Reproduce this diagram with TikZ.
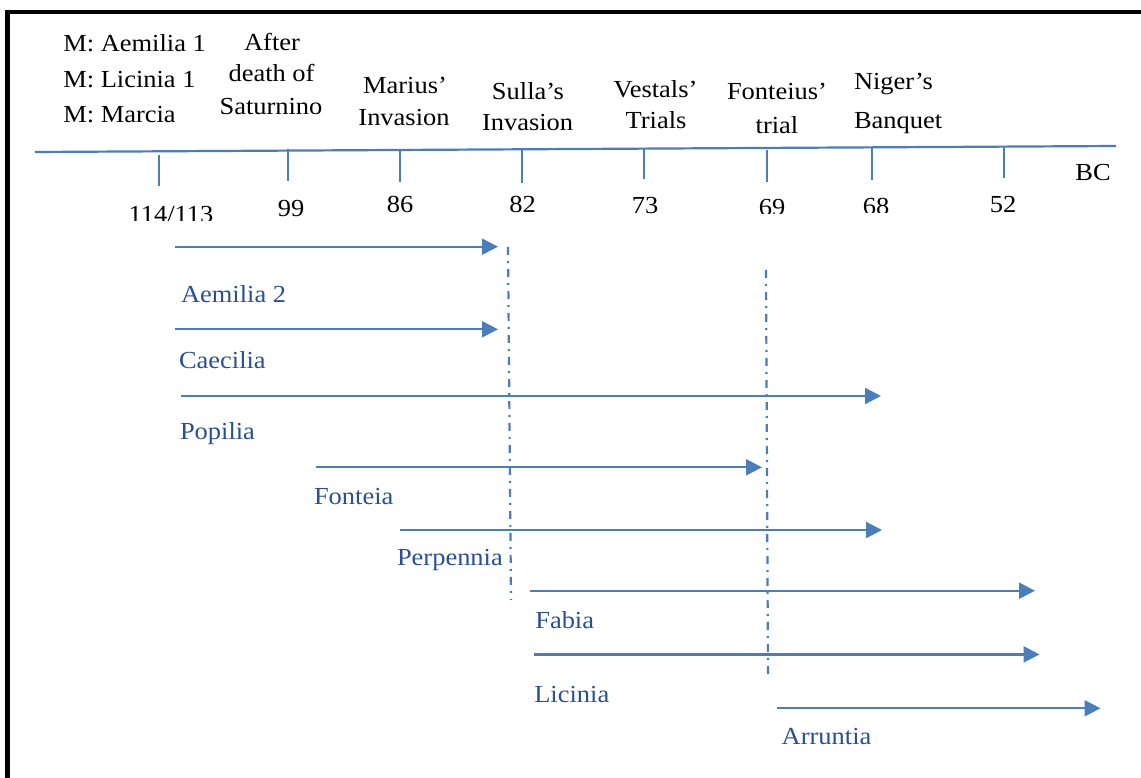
\documentclass[tikz,border=0pt]{standalone}
\usepackage{fontspec}
\setmainfont{Liberation Serif}[FakeStretch=1.08]
\usetikzlibrary{arrows.meta}
\definecolor{lineblue}{HTML}{4A7EBB}
\definecolor{textblue}{HTML}{2A5090}
\tikzset{
  lbl/.style={inner sep=0pt, outer sep=0pt, font=\fontsize{24.5}{29}\selectfont, text=black},
  who/.style={inner sep=0pt, outer sep=0pt, anchor=base west, font=\fontsize{24.5}{29}\selectfont, text=textblue},
  span/.style={draw=lineblue, line width=2.2pt, -{Triangle[length=16pt,width=16pt]}},
  tickmark/.style={draw=lineblue, line width=2.2pt},
  axisline/.style={draw=lineblue, line width=2.2pt},
  sepline/.style={draw=lineblue, line width=2.2pt, dash pattern=on 8pt off 6pt on 2pt off 6pt},
  frameline/.style={draw=black},
}
\begin{document}
\begin{tikzpicture}[x=1pt,y=-1pt]
\useasboundingbox (0,0) rectangle (1141,778);
\fill[white] (0,0) rectangle (1141,778);
% frame
\coordinate (fTR) at (1141,12);
\coordinate (fBL) at (7.5,778);
\draw[frameline, line width=4pt] (5,12) -- (fTR);
\draw[frameline, line width=5pt] (7.5,10) -- (fBL);

% axis
\coordinate (axL) at (35,152);
\coordinate (axR) at (1116,146);
\draw[axisline] (axL) -- (axR);

% ticks
\foreach \n/\x/\t/\b in {t1/159/155/186, t2/288/149/181, t3/400/150/182, t4/522/150/183,
                          t5/644/148/179, t6/767/150/182, t7/872/148/180, t8/1004/147/178}{
  \coordinate (\n a) at (\x,\t);
  \coordinate (\n b) at (\x,\b);
  \draw[tickmark] (\n a) -- (\n b);
}

% tick labels
\begin{scope}
  \clip (100,180) rectangle (250,220.5);
  \node[lbl, anchor=base] (y114) at (171,223) {114/113};
\end{scope}
\node[lbl, anchor=base] (y99) at (291,216.7) {99};
\node[lbl, anchor=base] (y86) at (400,212.5) {86};
\node[lbl, anchor=base] (y82) at (522.5,212.3) {82};
\node[lbl, anchor=base] (y73) at (645,214) {73};
\begin{scope}
  \clip (740,180) rectangle (800,213.3);
  \node[lbl, anchor=base] (y69) at (772,215.5) {69};
\end{scope}
\begin{scope}
  \clip (840,180) rectangle (910,213);
  \node[lbl, anchor=base] (y68) at (876,214.5) {68};
\end{scope}
\node[lbl, anchor=base] (y52) at (1003,212.3) {52};
\node[lbl, anchor=base] (bc) at (1093,181) {BC};

% event labels
\node[lbl, anchor=base west] (m1) at (63.3,51.7) {M: Aemilia 1};
\node[lbl, anchor=base west] (m2) at (63.3,87.7) {M: Licinia 1};
\node[lbl, anchor=base west] (m3) at (63.3,122.7) {M: Marcia};

\node[lbl, anchor=base] (e2a) at (272,51) {After};
\node[lbl, anchor=base] (e2b) at (271.5,81.7) {death of};
\node[lbl, anchor=base] (e2c) at (271,114.3) {Saturnino};

\node[lbl, anchor=base] (e3a) at (405,94) {Marius’};
\node[lbl, anchor=base] (e3b) at (404,126) {Invasion};

\node[lbl, anchor=base] (e4a) at (528,100) {Sulla’s};
\node[lbl, anchor=base] (e4b) at (527.6,131) {Invasion};

\node[lbl, anchor=base] (e5a) at (655.5,97.7) {Vestals’};
\node[lbl, anchor=base] (e5b) at (656,128.3) {Trials};

\node[lbl, anchor=base] (e6a) at (777,99.3) {Fonteius’};
\node[lbl, anchor=base] (e6b) at (777,133.3) {trial};

\node[lbl, anchor=base west] (e7a) at (854,90) {Niger’s};
\node[lbl, anchor=base west] (e7b) at (854,128.3) {Banquet};

% separator lines
\coordinate (s1a) at (508,247);
\coordinate (s1b) at (511,600);
\coordinate (s2a) at (766,270);
\coordinate (s2b) at (768,676);
\draw[sepline] (s1a) -- (s1b);
\draw[sepline] (s2a) -- (s2b);

% spans
\foreach \n/\xa/\xb/\y in {p1/175/498/246.7, p2/175/498/329.3, p3/181/881/396,
                            p4/316/762/467.3, p5/400/882/530, p6/529.7/1035/590.7,
                            p7/534/1039.5/654.4, p8/777.3/1100.5/708.3}{
  \coordinate (\n s) at (\xa,\y);
  \coordinate (\n e) at (\xb,\y);
  \draw[span] (\n s) -- (\n e);
}

% names
\node[who] (n1) at (181,302.7) {Aemilia 2};
\node[who] (n2) at (179,368) {Caecilia};
\node[who] (n3) at (180,439.5) {Popilia};
\node[who] (n4) at (314,504) {Fonteia};
\node[who] (n5) at (397,565) {Perpennia};
\node[who] (n6) at (535.3,628.3) {Fabia};
\node[who] (n7) at (534.3,702.3) {Licinia};
\node[who] (n8) at (781.7,744.3) {Arruntia};
\end{tikzpicture}
\end{document}
